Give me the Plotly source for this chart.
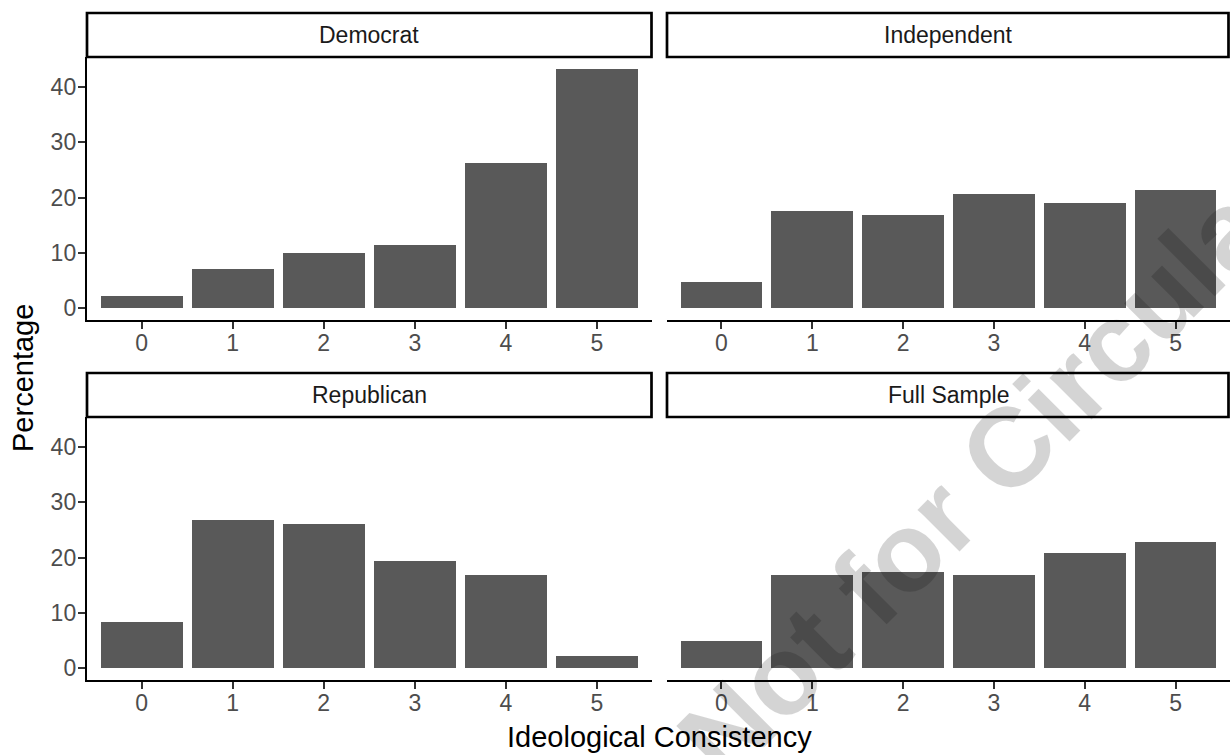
import plotly.graph_objects as go

# ---- data ----
categories = [0, 1, 2, 3, 4, 5]
tick_labels = ["0", "1", "2", "3", "4", "5"]
panels = ["Democrat", "Independent", "Republican", "Full Sample"]
democrat = [2.2, 7.1, 10.0, 11.4, 26.3, 43.3]
independent = [4.7, 17.6, 16.9, 20.6, 19.1, 21.4]
republican = [8.4, 26.9, 26.1, 19.3, 16.9, 2.2]
full_sample = [4.9, 16.9, 17.4, 16.9, 20.9, 22.9]
y_ticks = [0, 10, 20, 30, 40]
x_title = "Ideological Consistency"
y_title = "Percentage"
watermark = "Not for Circulation"

series = [democrat, independent, republican, full_sample]

W, H = 1230, 755
FONT = "Liberation Sans, Arial, sans-serif"
BAR = "#595959"

# panel pixel boxes (left, right, top, bottom)
cols = [(87, 651.5), (667, 1230)]
rows = [(57, 320), (417, 680)]
strip_h = 44

def px(x):
    return x / W

def py(y):
    return 1 - y / H

ymax = max(max(s) for s in series)
yrange = [-0.05 * ymax, 1.05 * ymax]

fig = go.Figure()
shapes = []
annotations = []

for i, (name, vals) in enumerate(zip(panels, series)):
    r, c = divmod(i, 2)
    n = i + 1
    xa = "x" if n == 1 else f"x{n}"
    ya = "y" if n == 1 else f"y{n}"
    fig.add_trace(go.Bar(x=categories, y=vals, width=0.9, marker=dict(color=BAR, line=dict(width=0)),
                         xaxis=xa, yaxis=ya, showlegend=False, hoverinfo="x+y"))
    l, rr = cols[c]
    t, b = rows[r]
    xkey = "xaxis" if n == 1 else f"xaxis{n}"
    ykey = "yaxis" if n == 1 else f"yaxis{n}"
    fig.layout[xkey] = dict(
        domain=[px(l), px(rr)], anchor=ya, range=[-0.6, 5.6],
        tickmode="array", tickvals=categories, ticktext=tick_labels,
        showline=True, linecolor="black", linewidth=2.4,
        ticks="outside", ticklen=7, tickwidth=2.2, tickcolor="#333333",
        tickfont=dict(family=FONT, size=23, color="#4D4D4D"),
        showgrid=False, zeroline=False, fixedrange=True, ticklabelstandoff=-6,
    )
    left_col = c == 0
    fig.layout[ykey] = dict(
        domain=[py(b), py(t)], anchor=xa, range=yrange,
        tickmode="array", tickvals=y_ticks, ticktext=[str(v) for v in y_ticks],
        showline=left_col, linecolor="black", linewidth=2.4,
        ticks="outside" if left_col else "", ticklen=7, tickwidth=2.2, tickcolor="#333333",
        showticklabels=left_col,
        tickfont=dict(family=FONT, size=23, color="#4D4D4D"),
        showgrid=False, zeroline=False, fixedrange=True, ticklabelstandoff=-3,
    )
    # strip
    sr = rr - 1.5 if c == 1 else rr
    shapes.append(dict(type="rect", xref="paper", yref="paper",
                       x0=px(l), x1=px(sr), y0=py(t), y1=py(t - strip_h),
                       line=dict(color="black", width=2.7), fillcolor="white", layer="above"))
    annotations.append(dict(text=name, xref="paper", yref="paper",
                            x=px((l + rr) / 2), y=py(t - strip_h / 2), showarrow=False,
                            xanchor="center", yanchor="middle",
                            font=dict(family=FONT, size=23, color="#1A1A1A")))

annotations.append(dict(text=x_title, xref="paper", yref="paper", x=px(659), y=py(737),
                        showarrow=False, xanchor="center", yanchor="middle",
                        font=dict(family=FONT, size=29, color="black")))
annotations.append(dict(text=y_title, xref="paper", yref="paper", x=px(23), y=py(378),
                        showarrow=False, xanchor="center", yanchor="middle", textangle=-90,
                        font=dict(family=FONT, size=29, color="black")))
annotations.append(dict(text=watermark, xref="paper", yref="paper", x=px(1045), y=py(411),
                        showarrow=False, xanchor="center", yanchor="middle", textangle=-45,
                        font=dict(family=FONT, size=112, color="rgba(0,0,0,0.17)", weight="bold")))

fig.update_layout(
    width=W, height=H, margin=dict(l=0, r=0, t=0, b=0),
    paper_bgcolor="white", plot_bgcolor="white",
    shapes=shapes, annotations=annotations, bargap=0,
)

fig.write_html("out.html", config={"displayModeBar": False},
               post_script="document.body.style.margin='0';document.body.style.overflow='hidden';")
